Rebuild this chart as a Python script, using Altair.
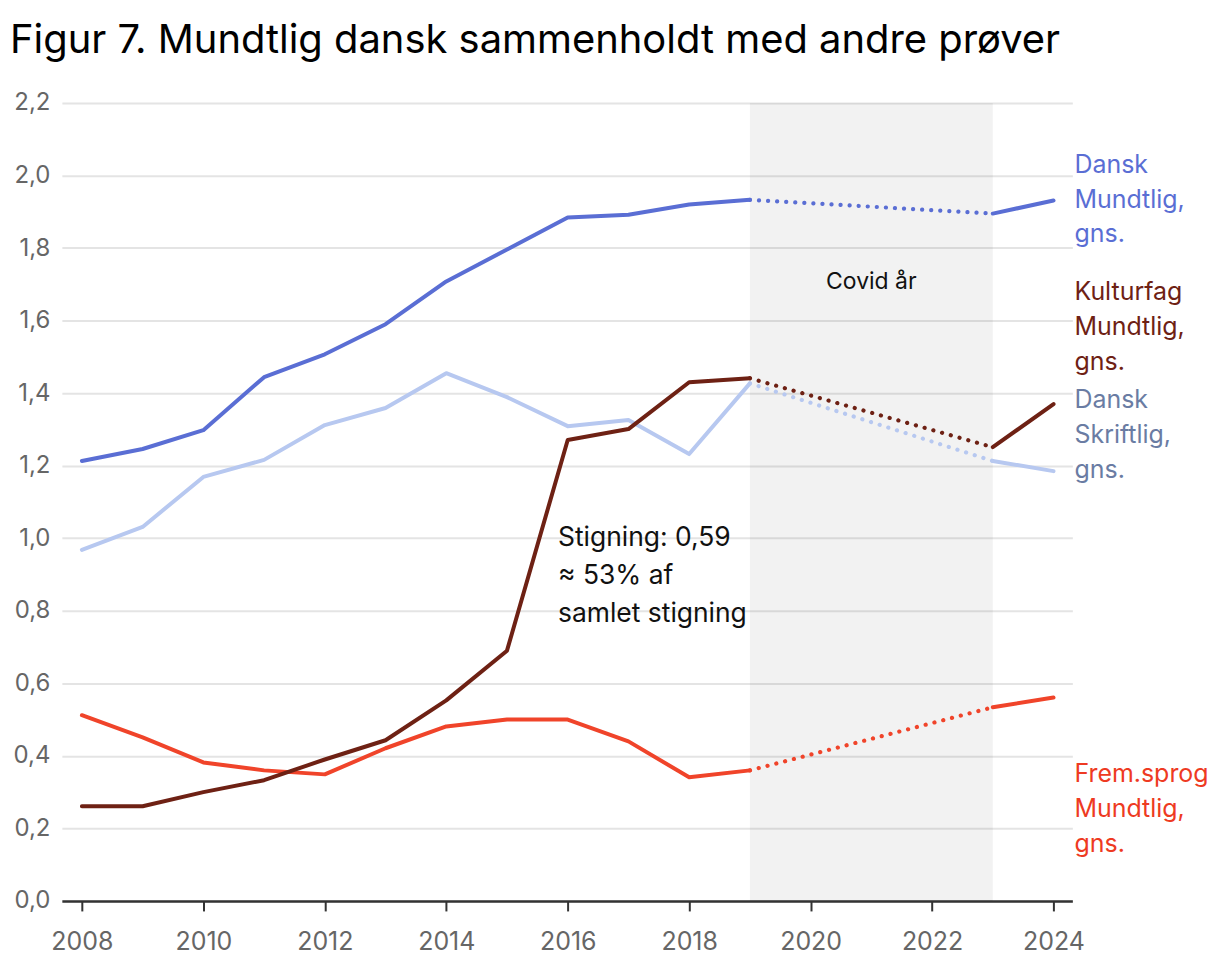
import altair as alt
import pandas as pd

years_pre = [2008, 2009, 2010, 2011, 2012, 2013, 2014, 2015, 2016, 2017, 2018, 2019]
years_post = [2023, 2024]

dansk_mundtlig = [1.213, 1.246, 1.298, 1.444, 1.507, 1.590, 1.708, 1.796, 1.884, 1.892, 1.920, 1.933]
dansk_mundtlig_post = [1.895, 1.931]
dansk_skriftlig = [0.968, 1.031, 1.169, 1.216, 1.312, 1.359, 1.455, 1.389, 1.309, 1.326, 1.232, 1.427]
dansk_skriftlig_post = [1.213, 1.185]
kulturfag = [0.261, 0.261, 0.300, 0.333, 0.390, 0.443, 0.553, 0.690, 1.271, 1.301, 1.430, 1.441]
kulturfag_post = [1.251, 1.370]
fremsprog = [0.512, 0.451, 0.382, 0.360, 0.349, 0.421, 0.481, 0.500, 0.500, 0.440, 0.341, 0.360]
fremsprog_post = [0.534, 0.561]

series_names = ["Dansk Skriftlig", "Frem.sprog", "Kulturfag", "Dansk Mundtlig"]
series_pre = [dansk_skriftlig, fremsprog, kulturfag, dansk_mundtlig]
series_post = [dansk_skriftlig_post, fremsprog_post, kulturfag_post, dansk_mundtlig_post]
line_colors = ["#b7c8f0", "#f0442a", "#6e2114", "#5a6ed4"]
label_colors = ["#6a7ca3", "#ee3a22", "#6e2114", "#5a6ed4"]
label_texts = [["Dansk", "Skriftlig,", "gns."], ["Frem.sprog", "Mundtlig,", "gns."],
               ["Kulturfag", "Mundtlig,", "gns."], ["Dansk", "Mundtlig,", "gns."]]
label_y = [1.359, 0.327, 1.656, 2.008]

covid_start, covid_end = 2019, 2023
y_ticks = [0.0, 0.2, 0.4, 0.6, 0.8, 1.0, 1.2, 1.4, 1.6, 1.8, 2.0, 2.2]
x_ticks = [2008, 2010, 2012, 2014, 2016, 2018, 2020, 2022, 2024]

FONT = "Inter"
xs = alt.Scale(domain=[2007.67, 2024.31], nice=False, zero=False)
ys = alt.Scale(domain=[0, 2.2], nice=False)

band = alt.Chart(pd.DataFrame({"x": [covid_start], "x2": [covid_end], "y": [0], "y2": [2.2]})).mark_rect(
    color="#000000", opacity=0.05
).encode(
    x=alt.X("x:Q", scale=xs, axis=alt.Axis(values=x_ticks, format="d", grid=False, tickSize=10,
                                          tickColor="#333333", tickWidth=2, domainColor="#333333",
                                          domainWidth=2.5, labelColor="#666666", labelFontSize=25,
                                          labelPadding=19, labelFont=FONT, title=None)),
    x2="x2:Q",
    y=alt.Y("y:Q", scale=ys, axis=alt.Axis(values=y_ticks, grid=True, gridColor="#e4e4e4", gridWidth=2,
                                          domain=False, ticks=False, labelColor="#666666", labelFontSize=24,
                                          labelPadding=12, labelFont=FONT, title=None,
                                          labelExpr="replace(format(datum.value, '.1f'), '.', ',')")),
    y2="y2:Q",
)

layers = [band]
for name, pre, post, col in zip(series_names, series_pre, series_post, line_colors):
    rows = []
    for yr, v in zip(years_pre, pre):
        rows.append({"year": yr, "value": v, "part": "a"})
    for yr, v in zip(years_post, post):
        rows.append({"year": yr, "value": v, "part": "b"})
    df = pd.DataFrame(rows)
    solid = alt.Chart(df).mark_line(color=col, strokeWidth=4, strokeCap="round", strokeJoin="round").encode(
        x=alt.X("year:Q", scale=xs), y=alt.Y("value:Q", scale=ys), detail="part:N")
    dot_df = pd.DataFrame({"year": [years_pre[-1], years_post[0]], "value": [pre[-1], post[0]]})
    dotted = alt.Chart(dot_df).mark_line(color=col, strokeWidth=4.2, strokeCap="round", strokeDash=[0.1, 9]).encode(
        x=alt.X("year:Q", scale=xs), y=alt.Y("value:Q", scale=ys))
    layers += [dotted, solid]

for txt, yv, col in zip(label_texts, label_y, label_colors):
    layers.append(alt.Chart(pd.DataFrame({"x": [2024], "y": [yv], "t": [txt]})).mark_text(
        align="left", baseline="alphabetic", dx=21, fontSize=25, font=FONT, color=col, lineHeight=35
    ).encode(x=alt.X("x:Q", scale=xs), y=alt.Y("y:Q", scale=ys), text="t"))

layers.append(alt.Chart(pd.DataFrame({"x": [2015.84], "y": [0.979],
                                      "t": [["Stigning: 0,59", "≈ 53% af", "samlet stigning"]]})).mark_text(
    align="left", baseline="alphabetic", fontSize=26.5, font=FONT, color="#111111", lineHeight=38
).encode(x=alt.X("x:Q", scale=xs), y=alt.Y("y:Q", scale=ys), text="t"))

layers.append(alt.Chart(pd.DataFrame({"x": [2021], "y": [1.686], "t": ["Covid år"]})).mark_text(
    align="center", baseline="alphabetic", fontSize=23, font=FONT, color="#111111"
).encode(x=alt.X("x:Q", scale=xs), y=alt.Y("y:Q", scale=ys), text="t"))

chart = alt.layer(*layers).properties(
    width=1013, height=800,
    title=alt.Title("Figur 7. Mundtlig dansk sammenholdt med andre prøver", anchor="start", frame="group",
                    dx=-52, dy=6, offset=4, baseline="alphabetic", fontSize=40, fontWeight="normal",
                    font=FONT, color="#000000"),
    autosize=alt.AutoSizeParams(type="none"),
    padding={"left": 54, "top": 94, "right": 140, "bottom": 58},
).configure_view(stroke=None)

chart.save("out.html", embed_options={"renderer": "svg", "actions": False})
